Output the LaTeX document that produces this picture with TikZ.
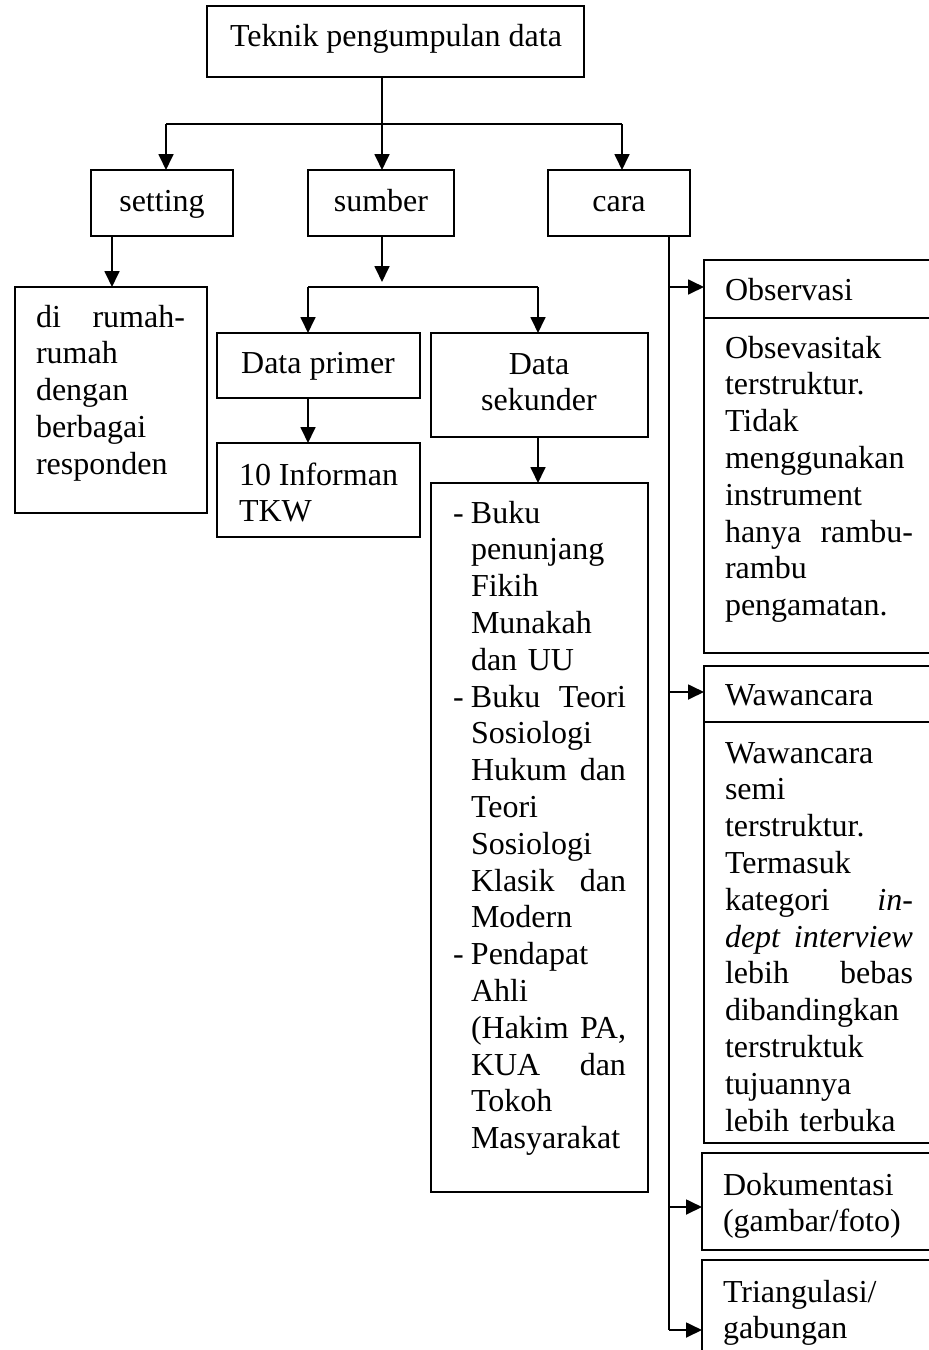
\documentclass[tikz,border=0pt]{standalone}
\usepackage{fontspec}
\setmainfont{Liberation Serif}
\usetikzlibrary{arrows.meta,fit}
\newcommand\jl[1]{\leavevmode\hbox to\hsize{#1}}
\newcommand\bul{\leavevmode\llap{\makebox[6.75pt][l]{-}}}
\begin{document}
\begin{tikzpicture}[x=0.375pt,y=-0.375pt,
 box/.style={draw,line width=0.75pt,inner sep=0pt,outer sep=0pt},
 txt/.style={inner sep=0pt,outer sep=0pt,font=\fontsize{12}{13.8}\selectfont},
 blk/.style={txt,align=left,anchor=base west},
 ctr/.style={txt,anchor=base},
 ln/.style={line width=0.75pt},
 arr/.style={ln,-{Triangle[length=6pt,width=5.6pt]}}]
\useasboundingbox (0,0) rectangle (929,1350);
\clip (0,0) rectangle (929,1350);
% boxes
\node[box,fit={(207,6) (584,77)}] (top) {};
\node[box,fit={(91,170) (233,236)}] (setting) {};
\node[box,fit={(308,170) (454,236)}] (sumber) {};
\node[box,fit={(548,170) (690,236)}] (cara) {};
\node[box,fit={(15,287) (207,513)}] (rumah) {};
\node[box,fit={(217,333) (420,398)}] (primer) {};
\node[box,fit={(217,443) (420,537)}] (informan) {};
\node[box,fit={(431,333) (648,437)}] (sekunder) {};
\node[box,fit={(431,483) (648,1192)}] (buku) {};
\node[box,fit={(704,260) (945,318)}] (obsh) {};
\node[box,fit={(704,318) (945,653)}] (obsb) {};
\node[box,fit={(704,666) (945,722)}] (wawh) {};
\node[box,fit={(704,722) (945,1143)}] (wawb) {};
\node[box,fit={(702,1153) (945,1250)}] (dok) {};
\node[box,fit={(702,1260) (945,1370)}] (tri) {};
% texts
\node[ctr] (ttop) at (396,46) {Teknik pengumpulan data};
\node[ctr] (tset) at (162,211) {setting};
\node[ctr] (tsum) at (381,211) {sumber};
\node[ctr] (tcara) at (619,211) {cara};
\node[blk,text width=55.875pt] (trumah) at (36,327)
 {\jl{di\hfill rumah-}\\ rumah\\ dengan\\ berbagai\\ responden};
\node[ctr] (tprimer) at (318,373) {Data primer};
\node[blk,text width=59.625pt] (tinf) at (239,485) {\jl{10\hfill Informan}\\ TKW};
\node[txt,text width=60pt,align=center,anchor=base] (tsek) at (539,374) {Data\\ sekunder};
\node[blk,text width=58.125pt] (tbuku) at (471,523)
 {\bul Buku\\ penunjang\\ Fikih\\ Munakah\\ dan UU\\
  \bul\jl{Buku\hfill Teori}\\ Sosiologi\\ \jl{Hukum\hfill dan}\\ Teori\\ Sosiologi\\ \jl{Klasik\hfill dan}\\ Modern\\
  \bul Pendapat\\ Ahli\\ \jl{(Hakim\hfill PA,}\\ \jl{KUA\hfill dan}\\ Tokoh\\ Masyarakat};
\node[blk] (tobsh) at (725,300) {Observasi};
\node[blk,text width=70.5pt] (tobsb) at (725,358)
 {Obsevasitak\\ terstruktur.\\ Tidak\\ menggunakan\\ instrument\\ \jl{hanya\hfill rambu-}\\ rambu\\ pengamatan.};
\node[blk] (twawh) at (725,705) {Wawancara};
\node[blk,text width=70.5pt] (twawb) at (725,763)
 {Wawancara\\ semi\\ terstruktur.\\ Termasuk\\ \jl{kategori\hfill\textit{in-}}\\ \jl{\textit{dept}\hfill\textit{interview}}\\
  \jl{lebih\hfill bebas}\\ dibandingkan\\ terstruktuk\\ tujuannya\\ lebih terbuka};
\node[blk,text width=80pt] (tdok) at (723,1195) {Dokumentasi\\ (gambar/foto)};
\node[blk,text width=80pt] (ttri) at (723,1302) {Triangulasi/\\ gabungan};
% connectors
\coordinate (jl) at (166,124);
\coordinate (jm) at (382,124);
\coordinate (jr) at (622,124);
\draw[ln] (top.south -| jm) -- (jm);
\draw[ln] (jl) -- (jr);
\draw[arr] (jl) -- (jl |- setting.north);
\draw[arr] (jm) -- (jm |- sumber.north);
\draw[arr] (jr) -- (jr |- cara.north);
\coordinate (sx) at (112,250);
\draw[arr] (sx |- setting.south) -- (sx |- rumah.north);
\coordinate (s1) at (382,282);
\draw[arr] (s1 |- sumber.south) -- (s1);
\coordinate (pl) at (308,287);
\coordinate (pr) at (538,287);
\draw[ln] (pl) -- (pr);
\draw[arr] (pl) -- (pl |- primer.north);
\draw[arr] (pr) -- (pr |- sekunder.north);
\draw[arr] (pl |- primer.south) -- (pl |- informan.north);
\draw[arr] (pr |- sekunder.south) -- (pr |- buku.north);
\coordinate (cend) at (669,1330);
\coordinate (c1) at (669,287);
\coordinate (c2) at (669,692);
\coordinate (c3) at (669,1207);
\draw[ln] (cend |- cara.south) -- (cend);
\draw[arr] (c1) -- (c1 -| obsh.west);
\draw[arr] (c2) -- (c2 -| wawh.west);
\draw[arr] (c3) -- (c3 -| dok.west);
\draw[arr] (cend) -- (cend -| tri.west);
\end{tikzpicture}
\end{document}
